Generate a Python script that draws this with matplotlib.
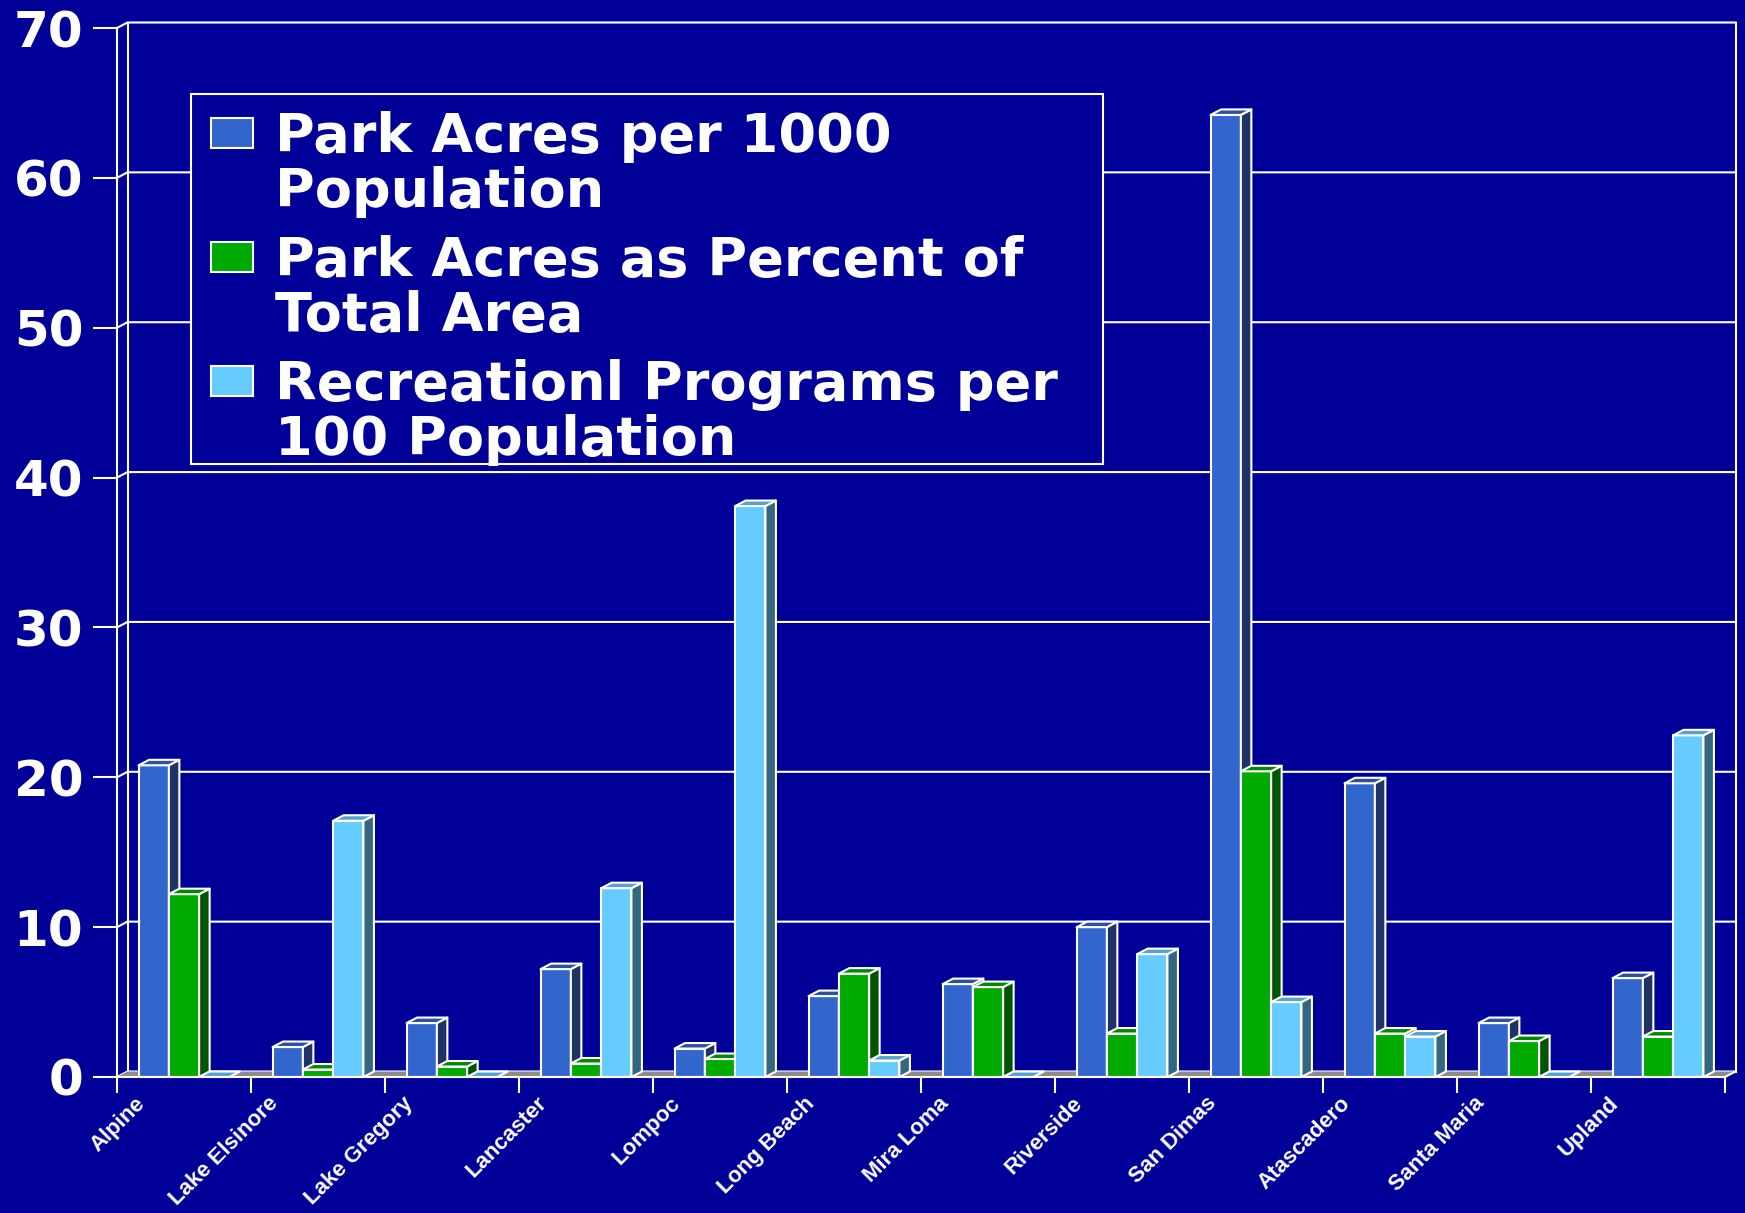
import matplotlib
matplotlib.use("Agg")
import matplotlib.pyplot as plt
from matplotlib.patches import Polygon, Rectangle
from matplotlib.transforms import ScaledTranslation

cities = ["Alpine", "Lake Elsinore", "Lake Gregory", "Lancaster", "Lompoc",
          "Long Beach", "Mira Loma", "Riverside", "San Dimas", "Atascadero",
          "Santa Maria", "Upland"]
acres_per_1000 = [20.8, 2.0, 3.6, 7.2, 1.9, 5.4, 6.2, 10.0, 64.2, 19.6, 3.6, 6.6]
pct_of_area = [12.2, 0.5, 0.7, 0.9, 1.2, 6.9, 6.0, 2.9, 20.4, 2.9, 2.4, 2.7]
programs_per_100 = [0.0, 17.1, 0.0, 12.6, 38.1, 1.1, 0.0, 8.2, 5.0, 2.7, 0.0, 22.8]
series_names = ["Park Acres per 1000\nPopulation",
                "Park Acres as Percent of\nTotal Area",
                "Recreationl Programs per\n100 Population"]

BG = "#000099"
# front, side, top shades for each series
shades = [("#3366CC", "#1F3366", "#2A52A0"),
          ("#00AA00", "#005500", "#008800"),
          ("#66CCFF", "#336680", "#55A3CC")]

W, H = 1745, 1213
fig = plt.figure(figsize=(W / 100, H / 100), dpi=100, facecolor=BG)
ax = fig.add_axes([117 / W, (H - 1077) / H, 1608 / W, (1077 - 28) / H])
ax.set_facecolor(BG)
ax.set_xlim(0, 12)
ax.set_ylim(0, 70)

DX, DY = 10.5 / 134, 5.5 / 15   # depth of the box in data units
bw, off = 0.226, 0.161          # bar width, left gap inside a category

# back wall, left wall and grid
for v in range(0, 80, 10):
    ax.plot([0, DX, 12 + DX], [v, v + DY, v + DY], color="white", lw=1.5,
            clip_on=False, zorder=1)
for xv in (DX, 12 + DX):
    ax.plot([xv, xv], [DY, 70 + DY], color="white", lw=1.5, clip_on=False, zorder=1)

# floor
ax.add_patch(Polygon([(0, 0), (12, 0), (12 + DX, DY), (DX, DY)], closed=True,
                     facecolor="#8C8C8C", edgecolor="none", clip_on=False, zorder=2))
ax.plot([12, 12 + DX], [0, DY], color="white", lw=1.5, clip_on=False, zorder=2)


def bar3d(x, v, cols):
    front, side, top = cols
    kw = dict(closed=True, edgecolor="white", lw=1.5, joinstyle="round",
              clip_on=False, zorder=3)
    if v > 0:
        ax.add_patch(Polygon([(x, 0), (x + bw, 0), (x + bw, v), (x, v)],
                             facecolor=front, **kw))
        ax.add_patch(Polygon([(x + bw, 0), (x + bw + DX, DY), (x + bw + DX, v + DY),
                              (x + bw, v)], facecolor=side, **kw))
    ax.add_patch(Polygon([(x, v), (x + bw, v), (x + bw + DX, v + DY), (x + DX, v + DY)],
                         facecolor=top, **kw))


series = [acres_per_1000, pct_of_area, programs_per_100]
for i in range(len(cities)):
    for j, vals in enumerate(series):
        bar3d(i + off + j * bw, vals[i], shades[j])

# axes, ticks and labels
for s in ("top", "right"):
    ax.spines[s].set_visible(False)
for s in ("left", "bottom"):
    ax.spines[s].set_color("white")
    ax.spines[s].set_linewidth(1.5)
    ax.spines[s].set_zorder(4)

ax.set_yticks(range(0, 80, 10))
ax.tick_params(axis="y", colors="white", length=17.3, width=1.5, pad=7.0,
               labelsize=36)
for lab in ax.get_yticklabels():
    lab.set_fontfamily("DejaVu Sans")
    lab.set_fontweight("bold")

ax.set_xticks(range(13), labels=cities + [""])
ax.tick_params(axis="x", colors="white", length=11.5, width=1.5, pad=0,
               labelsize=16)
shift = ScaledTranslation(0.17, 0, fig.dpi_scale_trans)
for lab in ax.get_xticklabels():
    lab.set_rotation(45)
    lab.set_ha("right")
    lab.set_va("top")
    lab.set_rotation_mode("anchor")
    lab.set_fontfamily("Liberation Sans")
    lab.set_fontweight("bold")
    lab.set_transform(lab.get_transform() + shift)

# legend box
lax = fig.add_axes([0, 0, 1, 1], zorder=5)
lax.set_xlim(0, W)
lax.set_ylim(H, 0)
lax.axis("off")
lax.add_patch(Rectangle((191, 94), 912, 370, facecolor=BG, edgecolor="white", lw=1.5))
for k, name in enumerate(series_names):
    y0 = 118 + k * 124
    lax.add_patch(Rectangle((211, y0), 42, 30, facecolor=shades[k][0],
                            edgecolor="white", lw=1.5))
    lax.text(275, y0 - 7, name, color="white", fontsize=39, fontweight="bold",
             family="DejaVu Sans", va="top", ha="left", linespacing=1.08)

fig.savefig("out.png", dpi=100, facecolor=BG)
